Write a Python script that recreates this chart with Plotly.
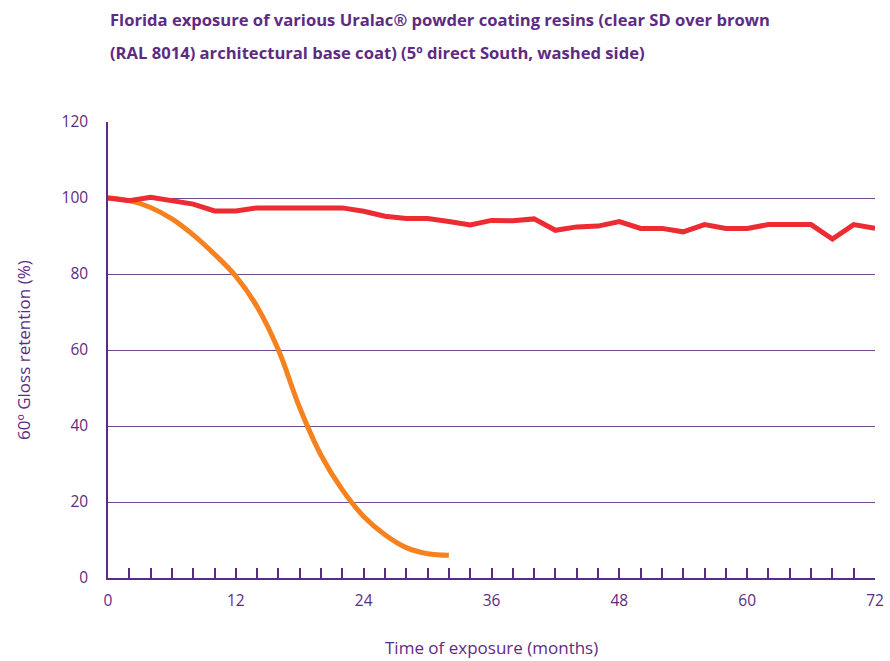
import plotly.graph_objects as go

# Data
red_months = list(range(0, 74, 2))
red_values = [100, 99.3, 100.2, 99.3, 98.4, 96.6, 96.6, 97.4, 97.4, 97.4, 97.4, 97.4,
              96.5, 95.2, 94.6, 94.6, 93.8, 92.9, 94.1, 94.0, 94.5, 91.5, 92.4, 92.6,
              93.8, 92.0, 92.0, 91.1, 93.0, 92.0, 92.0, 93.0, 93.0, 93.0, 89.2, 93.0, 92.0]
orange_months = list(range(0, 34, 2))
orange_values = [100, 99.3, 97.5, 94.5, 90.3, 85.2, 79.4, 71.4, 60.0, 44.8, 32.3,
                 23.2, 16.2, 11.4, 8.0, 6.4, 6.0]
x_ticks = [0, 12, 24, 36, 48, 60, 72]
y_ticks = [0, 20, 40, 60, 80, 100, 120]

PURPLE = "#5e2b83"
GRID = "#6f4a93"
FONT = "Open Sans"

fig = go.Figure()
fig.add_trace(go.Scatter(x=orange_months, y=orange_values, mode="lines",
                         line=dict(color="#f5821f", width=5, shape="spline", smoothing=1.1),
                         hoverinfo="skip", showlegend=False))
fig.add_trace(go.Scatter(x=red_months, y=red_values, mode="lines",
                         line=dict(color="#ec2b33", width=5),
                         hoverinfo="skip", showlegend=False))

fig.update_layout(
    width=890, height=661,
    margin=dict(l=108, r=15, t=122, b=83, autoexpand=False),
    paper_bgcolor="white", plot_bgcolor="white",
    font=dict(family=FONT, color=PURPLE, size=15),
    showlegend=False,
)
fig.update_xaxes(
    range=[0, 72], tickvals=x_ticks, ticktext=[str(v) for v in x_ticks],
    showgrid=False, zeroline=False, showline=True, linecolor=PURPLE, linewidth=2,
    ticks="inside", ticklen=10, tickwidth=1.5, tickcolor=PURPLE,
    minor=dict(dtick=2, tick0=0, ticks="inside", ticklen=10, tickwidth=1.5, tickcolor=PURPLE, showgrid=False),
    tickfont=dict(family=FONT, size=15.5, color=PURPLE), ticklabelstandoff=7,
    automargin=False,
)
fig.update_yaxes(
    range=[0, 120], tickvals=y_ticks, ticktext=[str(v) for v in y_ticks],
    showgrid=True, gridcolor=GRID, gridwidth=1, zeroline=False,
    showline=True, linecolor=PURPLE, linewidth=1.5, ticks="",
    tickfont=dict(family=FONT, size=15.5, color=PURPLE), ticklabelstandoff=15,
    automargin=False,
)

fig.add_annotation(text="Time of exposure (months)", xref="paper", yref="paper",
                   x=0.5, y=(578 - 647) / 456, xanchor="center", yanchor="middle",
                   showarrow=False, font=dict(family=FONT, size=17, color=PURPLE))
fig.add_annotation(text="60º Gloss retention (%)", xref="paper", yref="paper",
                   x=(23 - 108) / 767, y=0.5, xanchor="center", yanchor="middle", textangle=-90,
                   showarrow=False, font=dict(family=FONT, size=17, color=PURPLE))

fig.add_annotation(text="<b>Florida exposure of various Uralac® powder coating resins (clear SD over brown</b>",
                   xref="paper", yref="paper", x=0.0, y=1.0, xanchor="left", yanchor="middle",
                   yshift=103, showarrow=False, font=dict(family=FONT, size=16.6, color=PURPLE))
fig.add_annotation(text="<b>(RAL 8014) architectural base coat) (5º direct South, washed side)</b>",
                   xref="paper", yref="paper", x=0.0, y=1.0, xanchor="left", yanchor="middle",
                   yshift=70, showarrow=False, font=dict(family=FONT, size=16.6, color=PURPLE))

fig.write_html("out.html", config={"displayModeBar": False},
               post_script="document.body.style.margin='0';document.body.style.overflow='hidden';")
